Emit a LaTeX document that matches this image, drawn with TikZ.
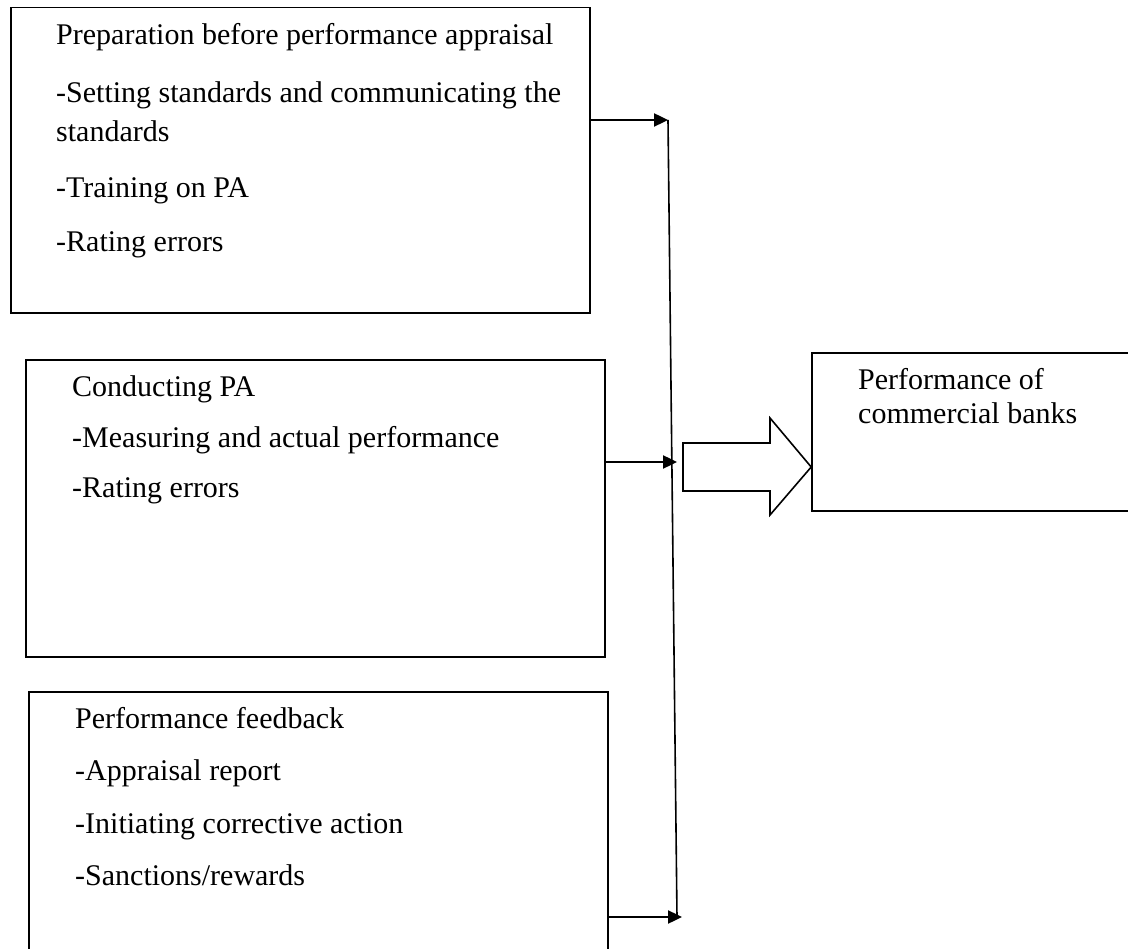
\documentclass[tikz,border=0pt]{standalone}
\usepackage{fontspec}
\setmainfont{Liberation Serif}
\usetikzlibrary{arrows.meta,calc}
\begin{document}
\begin{tikzpicture}[x=1pt,y=-1pt,
  box/.style={draw=black,line width=1.6pt,inner sep=0pt,rectangle},
  txt/.style={anchor=base west,inner sep=0pt,font=\fontsize{30}{34}\selectfont},
  conn/.style={draw=black,line width=2.4pt,-{Triangle[length=14pt,width=13pt]}},
  vline/.style={draw=black,line width=1.6pt}]
\useasboundingbox (0,0) rectangle (1128,949);
\clip (0,0) rectangle (1128,949);
\fill[white] (0,0) rectangle (1128,949);

% boxes
\node[box,minimum width=579.3pt,minimum height=305.3pt] (box1) at (300.35,160.35) {};
\node[box,minimum width=579pt,minimum height=297pt] (box2) at (315.5,508.5) {};
\node[box,minimum width=579pt,minimum height=268pt] (box3) at (318.5,826) {};
\node[box,minimum width=330pt,minimum height=158pt] (box4) at (977,432) {};

% texts
\node[txt] (t1a) at (56,45) {Preparation before performance appraisal};
\node[txt] (t1b) at (56,103) {-Setting standards and communicating the};
\node[txt] (t1c) at (56,142) {standards};
\node[txt] (t1d) at (56,198) {-Training on PA};
\node[txt] (t1e) at (56,252) {-Rating errors};

\node[txt] (t2a) at (72,397) {Conducting PA};
\node[txt] (t2b) at (72,448) {-Measuring and actual performance};
\node[txt] (t2c) at (72,498) {-Rating errors};

\node[txt] (t3a) at (75,728) {Performance feedback};
\node[txt] (t3b) at (75,780) {-Appraisal report};
\node[txt] (t3c) at (75,833) {-Initiating corrective action};
\node[txt] (t3d) at (75,885) {-Sanctions/rewards};

\node[txt] (t4a) at (858,390) {Performance of};
\node[txt] (t4b) at (858,424) {commercial banks};

% connector line
\coordinate (vtop) at (668,120);
\coordinate (vbot) at (677,917);
\coordinate (m2) at (677,462);
\coordinate (b3) at (682,917);
\draw[vline] (vtop) -- (vbot);

\draw[conn] (box1.east |- vtop) -- (vtop);
\draw[conn] (box2.east |- m2) -- (m2);
\draw[conn] (box3.east |- b3) -- (b3);

% block arrow
\draw[line width=1.6pt,line join=miter] (683,443) -- (770,443) -- (770,418) -- (box4.west |- 0,467) -- (770,515) -- (770,491) -- (683,491) -- cycle;
\end{tikzpicture}
\end{document}
